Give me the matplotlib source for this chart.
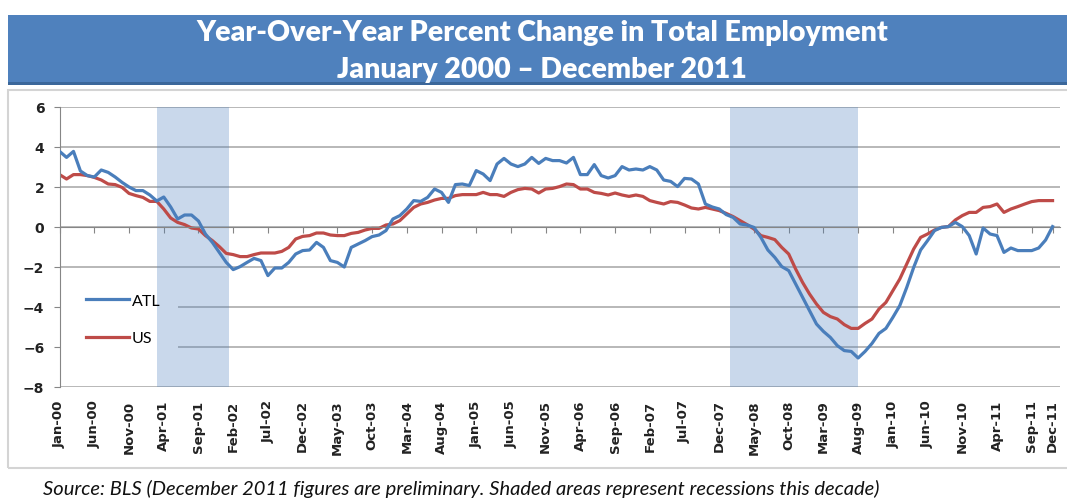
import matplotlib.pyplot as plt
from matplotlib.patches import Rectangle

# monthly year-over-year % change, Jan 2000 .. Dec 2011 (144 months)
atl = [3.78, 3.48, 3.78, 2.80, 2.57, 2.50, 2.85, 2.73, 2.50, 2.23, 2.00, 1.82,
       1.82, 1.60, 1.30, 1.50, 1.00, 0.40, 0.60, 0.60, 0.30, -0.35, -0.77, -1.27,
       -1.77, -2.13, -1.98, -1.77, -1.57, -1.68, -2.43, -2.05, -2.05, -1.77, -1.35, -1.18,
       -1.15, -0.77, -1.02, -1.68, -1.77, -2.00, -1.02, -0.85, -0.68, -0.48, -0.40, -0.18,
       0.40, 0.57, 0.90, 1.32, 1.28, 1.48, 1.90, 1.73, 1.23, 2.12, 2.15, 2.07,
       2.82, 2.65, 2.32, 3.15, 3.43, 3.15, 3.02, 3.15, 3.48, 3.18, 3.43, 3.32,
       3.32, 3.20, 3.48, 2.62, 2.62, 3.12, 2.57, 2.45, 2.57, 3.02, 2.85, 2.90,
       2.85, 3.02, 2.85, 2.35, 2.28, 2.02, 2.43, 2.40, 2.15, 1.15, 1.00, 0.90,
       0.62, 0.48, 0.15, 0.10, -0.02, -0.52, -1.15, -1.52, -1.98, -2.18, -2.85, -3.52,
       -4.18, -4.85, -5.22, -5.52, -5.93, -6.18, -6.22, -6.55, -6.22, -5.82, -5.32, -5.07,
       -4.52, -3.93, -3.02, -2.02, -1.15, -0.68, -0.18, -0.02, 0.02, 0.23, 0.02, -0.43,
       -1.35, -0.05, -0.35, -0.43, -1.27, -1.05, -1.18, -1.18, -1.18, -1.05, -0.65, 0.02]

us = [2.62, 2.40, 2.62, 2.62, 2.57, 2.48, 2.35, 2.15, 2.12, 1.98, 1.68, 1.57,
      1.48, 1.28, 1.28, 0.90, 0.45, 0.23, 0.12, -0.05, -0.10, -0.43, -0.68, -0.98,
      -1.32, -1.38, -1.48, -1.48, -1.38, -1.30, -1.30, -1.30, -1.22, -1.02, -0.60, -0.47,
      -0.43, -0.30, -0.30, -0.40, -0.43, -0.43, -0.32, -0.27, -0.15, -0.07, -0.07, 0.10,
      0.15, 0.32, 0.65, 0.98, 1.15, 1.23, 1.35, 1.43, 1.43, 1.57, 1.62, 1.62,
      1.62, 1.73, 1.62, 1.62, 1.53, 1.73, 1.87, 1.93, 1.90, 1.70, 1.90, 1.93,
      2.02, 2.15, 2.12, 1.90, 1.90, 1.73, 1.68, 1.60, 1.70, 1.60, 1.53, 1.60,
      1.53, 1.32, 1.23, 1.15, 1.27, 1.23, 1.10, 0.95, 0.90, 0.98, 0.90, 0.82,
      0.68, 0.52, 0.32, 0.12, -0.10, -0.43, -0.52, -0.63, -1.02, -1.35, -2.10, -2.77,
      -3.35, -3.85, -4.27, -4.48, -4.60, -4.88, -5.07, -5.07, -4.82, -4.60, -4.10, -3.77,
      -3.18, -2.60, -1.85, -1.10, -0.52, -0.35, -0.15, -0.02, 0.02, 0.35, 0.57, 0.73,
      0.73, 0.98, 1.02, 1.15, 0.73, 0.90, 1.02, 1.15, 1.27, 1.32, 1.32, 1.32]

months = list(range(len(atl)))

tick_pos = list(range(0, 141, 5)) + [143]
tick_labels = ["Jan-00", "Jun-00", "Nov-00", "Apr-01", "Sep-01", "Feb-02", "Jul-02",
               "Dec-02", "May-03", "Oct-03", "Mar-04", "Aug-04", "Jan-05", "Jun-05",
               "Nov-05", "Apr-06", "Sep-06", "Feb-07", "Jul-07", "Dec-07", "May-08",
               "Oct-08", "Mar-09", "Aug-09", "Jan-10", "Jun-10", "Nov-10", "Apr-11",
               "Sep-11", "Dec-11"]

# recessions (month index start, end)
recessions = [(14, 24.4), (96.5, 115)]

blue = "#4A7EBB"
red = "#BE4B48"

fig = plt.figure(figsize=(10.67, 5.02), dpi=100)

# title banner + chart frame
fig.patches.append(Rectangle((8 / 1067, 1 - 86 / 502), 1, 70 / 502, transform=fig.transFigure,
                             facecolor="#4F81BD", edgecolor="none", zorder=0))
fig.patches.append(Rectangle((8 / 1067, 1 - 86 / 502), 1, 3 / 502, transform=fig.transFigure,
                             facecolor="#3B679A", edgecolor="none", zorder=0))
fig.patches.append(Rectangle((8 / 1067, 1 - 469 / 502), 1.2, 378 / 502, transform=fig.transFigure,
                             facecolor="none", edgecolor="#D4D4D4", lw=1.5, zorder=0))
fig.text(0.508, 1 - 33 / 502, "Year-Over-Year Percent Change in Total Employment",
         ha="center", va="center", color="white", fontsize=20.5, fontweight="heavy", family="Lato")
fig.text(0.508, 1 - 70 / 502, "January 2000 \u2013 December 2011",
         ha="center", va="center", color="white", fontsize=20.5, fontweight="heavy", family="Lato")
fig.text(43 / 1067, 1 - 495 / 502,
         "Source: BLS (December 2011 figures are preliminary. Shaded areas represent recessions this decade)",
         ha="left", va="baseline", fontsize=14.5, style="italic", family="Lato", color="#111111")

ax = fig.add_axes([59.6 / 1067, 1 - 388 / 502, (1059.5 - 59.6) / 1067, 280 / 502])
ax.set_xlim(0, 144)
ax.set_ylim(-8, 6)
ax.set_yticks(range(-8, 7, 2))
ax.set_axisbelow(True)
ax.grid(axis="y", color="#ABABAB", lw=1.2)
ax.grid(axis="x", visible=False)

for s, e in recessions:
    ax.axvspan(s, e, facecolor="#4F81BD", alpha=0.3, lw=0, zorder=0.9)

# white box behind legend hides the gridlines there
ax.add_patch(Rectangle((0, 0.1), 0.118, 0.23, transform=ax.transAxes,
                       facecolor="white", edgecolor="none", zorder=0.7))

ax.plot(months, atl, color=blue, lw=2.3, label="ATL", zorder=3)
ax.plot(months, us, color=red, lw=2.3, label="US", zorder=2)

leg = ax.legend(loc="upper left", bbox_to_anchor=(0.012, 0.385), frameon=False,
                handlelength=2.7, handletextpad=0.15, labelspacing=1.45,
                prop={"family": "Lato", "size": 11.5})

for side in ["top", "right"]:
    ax.spines[side].set_visible(False)
ax.spines["left"].set_color("#868686")
ax.spines["bottom"].set_position(("data", 0))
ax.spines["bottom"].set_color("#868686")
ax.set_xticks(tick_pos)
ax.tick_params(axis="x", direction="out", length=4, color="#868686", labelbottom=False)
ax.tick_params(axis="y", direction="out", length=4, color="#868686", pad=7,
               labelsize=10, labelcolor="#222222")
for t in ax.get_yticklabels():
    t.set_fontweight("bold")

sec = ax.secondary_xaxis(0)
sec.set_xticks(tick_pos, tick_labels, rotation=90)
sec.tick_params(length=0, pad=9, labelsize=9.5, labelcolor="#222222")
sec.spines["bottom"].set_visible(False)
for t in sec.get_xticklabels():
    t.set_fontweight("bold")

fig.savefig("out.png", dpi=100)
